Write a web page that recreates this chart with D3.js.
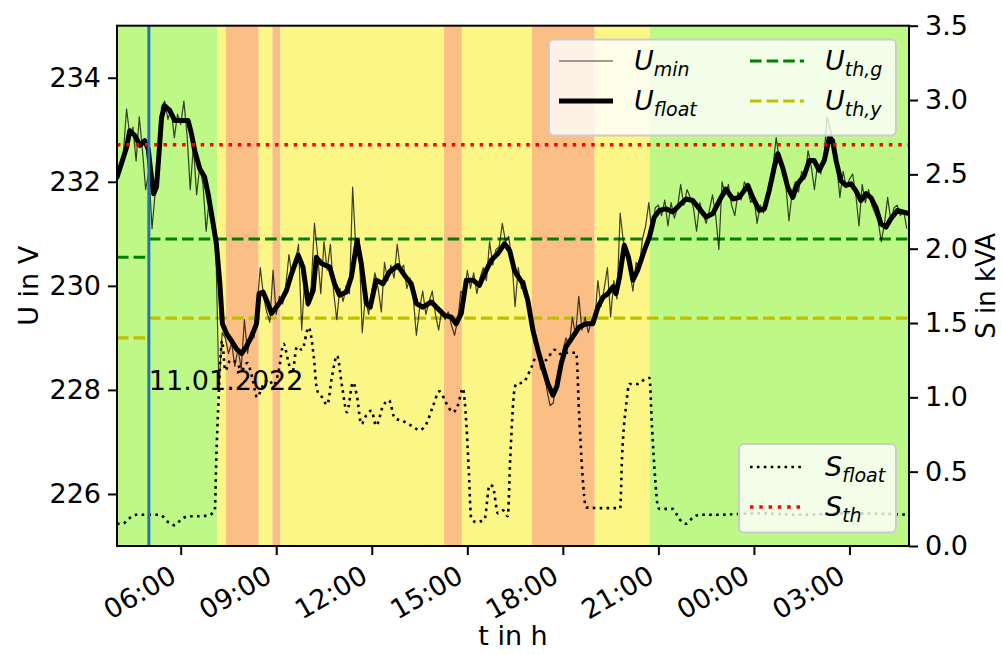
<!DOCTYPE html>
<html>
<head>
<meta charset="utf-8">
<script src="https://cdn.jsdelivr.net/npm/d3@7"></script>
<style>
  body { margin: 0; background: #fff; }
  svg { display: block; font-family: "DejaVu Sans", sans-serif; }
</style>
</head>
<body>
<svg id="chart" width="1002" height="655"></svg>
<script>
// ---- Data: times are hours since 00:00 on 11.01.2022 ----
const tStart = 4.0;
const tEnd = 28.87;

// Smoothed voltage U_float (V)
const uFloatTime = [4.00,4.14,4.30,4.40,4.56,4.72,4.87,4.98,5.08,5.15,5.24,5.31,5.40,5.50,5.66,5.81,6.02,6.23,6.34,6.44,6.60,6.75,6.86,7.02,7.12,7.23,7.31,7.44,7.59,7.75,7.91,8.06,8.22,8.38,8.46,8.59,8.74,8.85,9.00,9.16,9.32,9.48,9.69,9.84,10.00,10.16,10.26,10.42,10.68,10.83,10.99,11.20,11.36,11.54,11.67,11.83,11.95,12.14,12.35,12.56,12.82,13.03,13.24,13.40,13.61,13.87,14.08,14.29,14.50,14.65,14.81,14.97,15.18,15.38,15.54,15.75,15.96,16.17,16.33,16.48,16.54,16.75,16.90,17.06,17.22,17.37,17.53,17.69,17.81,17.95,18.10,18.31,18.52,18.73,18.94,19.10,19.26,19.41,19.57,19.67,19.78,19.93,20.06,20.20,20.35,20.56,20.72,20.87,21.03,21.24,21.45,21.66,21.87,22.08,22.29,22.50,22.71,22.97,23.12,23.34,23.54,23.81,23.96,24.17,24.33,24.48,24.64,24.75,24.90,25.06,25.22,25.37,25.58,25.74,25.89,26.05,26.21,26.37,26.47,26.58,26.73,26.89,27.05,27.20,27.36,27.52,27.67,27.83,27.99,28.15,28.30,28.51,28.67,28.87];
const uFloatValue = [232.09,232.35,232.66,232.98,232.89,232.70,232.79,232.63,232.09,231.77,231.90,232.47,233.24,233.46,233.37,233.18,233.18,233.18,232.92,232.60,232.25,232.09,231.77,231.19,230.81,230.04,229.27,229.08,228.95,228.79,228.70,228.83,229.02,229.27,229.85,229.88,229.66,229.47,229.59,229.72,229.91,230.23,230.59,230.36,229.66,229.91,230.55,230.43,230.36,230.04,229.82,229.88,230.17,230.87,230.43,229.66,229.59,230.11,230.04,230.27,230.39,230.20,230.04,229.66,229.59,229.69,229.56,229.43,229.40,229.27,229.47,230.11,230.11,230.01,230.23,230.49,230.62,230.81,230.68,230.30,230.23,230.04,229.72,229.15,228.76,228.44,228.12,227.90,228.06,228.51,228.83,229.02,229.21,229.27,229.27,229.59,229.78,229.85,229.98,229.85,230.17,230.78,230.55,230.11,230.30,230.68,230.94,231.32,231.45,231.48,231.42,231.55,231.67,231.64,231.48,231.32,231.39,231.70,231.86,231.67,231.70,231.93,231.70,231.45,231.48,231.83,232.28,232.54,232.28,231.90,231.70,231.96,232.12,232.41,232.41,232.22,232.41,232.86,232.79,232.41,232.02,231.93,231.96,231.83,231.64,231.77,231.70,231.51,231.19,231.13,231.29,231.45,231.42,231.39];

// Minimum voltage U_min (V), one sample every 6 minutes from 04:00
const uMinStep = 0.1;
const uMinValue = [
  232.00,232.30,232.55,233.40,232.90,233.05,232.40,233.25,232.60,231.85,
  232.20,231.10,231.80,232.60,233.45,233.55,233.20,233.40,232.85,233.30,
  233.10,233.55,232.90,231.85,232.70,231.75,232.30,231.95,231.05,231.70,
  231.20,230.90,228.00,229.10,229.00,228.70,228.90,228.45,228.80,228.40,
  229.35,228.70,229.10,229.00,229.60,230.35,229.80,229.50,229.30,230.30,
  229.45,229.80,229.65,230.00,230.60,230.15,230.45,230.80,229.15,230.20,
  229.60,230.00,231.20,230.60,229.85,230.85,230.30,230.80,229.90,229.35,
  229.95,229.70,230.00,229.85,231.90,230.70,230.90,229.10,229.80,229.45,
  229.90,230.25,229.95,229.50,230.45,230.10,230.40,230.15,230.80,230.30,
  230.40,229.95,230.15,229.80,229.05,229.55,229.90,229.45,229.70,229.90,
  229.45,229.15,229.55,229.35,229.50,229.25,229.05,229.35,229.90,229.80,
  230.30,229.95,230.25,229.85,230.15,230.35,230.10,230.85,230.40,230.70,
  230.75,231.20,230.85,230.95,230.50,229.60,230.35,229.95,230.10,229.60,
  229.35,228.90,228.85,228.40,228.50,228.00,227.70,227.75,228.20,228.25,
  228.75,229.00,228.85,229.40,229.05,229.80,229.15,229.40,229.10,229.35,
  229.30,230.10,229.60,229.95,230.35,229.40,230.10,229.75,231.40,230.85,
  230.75,230.30,229.90,230.45,230.35,230.90,231.15,231.60,231.00,231.50,
  231.55,231.35,231.65,231.15,231.60,231.30,231.50,231.95,231.55,231.85,
  231.70,231.50,231.05,231.60,231.40,231.20,231.45,231.75,231.35,230.70,
  232.00,231.75,231.95,231.55,231.35,231.80,231.65,232.00,231.85,231.60,
  231.70,231.20,231.55,231.40,231.75,231.95,232.30,232.85,232.40,232.25,
  231.95,231.25,231.80,232.00,231.80,232.20,232.05,232.60,232.30,231.85,
  232.35,232.15,232.50,233.25,233.00,232.75,232.30,231.70,232.20,231.90,
  232.05,232.15,231.75,231.15,231.95,231.60,231.85,231.55,231.40,231.25,
  230.85,231.20,231.70,231.25,231.50,231.55,231.35,231.45,231.10
];

// Apparent power S_float (kVA)
const sFloatTime = [4.00,4.19,4.35,4.61,4.93,5.34,5.61,5.81,6.02,6.23,6.60,6.91,7.07,7.12,7.18,7.25,7.30,7.40,7.56,7.77,7.91,8.09,8.24,8.40,8.56,8.76,8.92,9.08,9.23,9.39,9.50,9.65,9.81,10.02,10.18,10.28,10.44,10.60,10.75,10.91,11.07,11.22,11.41,11.54,11.67,11.83,11.99,12.14,12.35,12.54,12.72,12.98,13.24,13.50,13.71,13.92,14.13,14.34,14.55,14.71,14.86,14.97,15.05,15.12,15.28,15.54,15.70,15.80,15.96,16.12,16.27,16.35,16.48,16.54,16.75,17.01,17.16,17.45,17.74,17.95,18.10,18.42,18.51,18.61,18.73,19.17,19.80,19.86,19.99,20.09,20.35,20.56,20.72,20.80,20.90,20.98,21.03,21.45,21.66,21.87,22.08,22.29,22.81,24.19,25.44,27.01,28.87];
const sFloatValue = [0.15,0.15,0.18,0.21,0.21,0.21,0.16,0.14,0.18,0.20,0.20,0.21,0.24,0.60,0.94,1.27,1.38,1.18,1.25,1.23,1.18,1.23,1.14,1.00,1.07,1.12,1.08,1.18,1.36,1.23,1.16,1.34,1.32,1.47,1.27,1.05,1.00,0.95,1.14,1.28,1.07,0.90,1.10,1.00,0.82,0.88,0.91,0.81,0.94,0.98,0.86,0.84,0.81,0.78,0.82,0.94,1.04,0.96,0.90,0.95,1.06,0.82,0.49,0.19,0.16,0.18,0.41,0.40,0.22,0.24,0.20,0.60,1.05,1.09,1.10,1.20,1.27,1.25,1.32,1.29,1.30,1.30,0.90,0.50,0.26,0.255,0.255,0.60,0.95,1.09,1.09,1.12,1.13,0.80,0.45,0.27,0.25,0.25,0.18,0.15,0.19,0.21,0.21,0.22,0.21,0.22,0.21];

// Thresholds: the voltage limits change at 05:00
const thresholdBreaks = [4.0, 5.0, 28.87];
const uThG = [230.55, 230.90];
const uThY = [229.00, 229.38];
const sTh = 2.70;

// Traffic-light state periods
const stateStart = [4.00, 7.15, 7.42, 8.45, 8.88, 9.13, 14.27, 14.83, 17.03, 19.00, 20.72];
const stateEnd   = [7.15, 7.42, 8.45, 8.88, 9.13, 14.27, 14.83, 17.03, 19.00, 20.72, 28.87];
const stateLevel = ["green","yellow","orange","yellow","orange","yellow","orange","yellow","orange","yellow","green"];

const markerTime = 5.0;
const markerLabel = "11.01.2022";

const xTickHours = [6, 9, 12, 15, 18, 21, 24, 27];
const uTicks = [226, 228, 230, 232, 234];
const sTicks = [0, 0.5, 1.0, 1.5, 2.0, 2.5, 3.0, 3.5];

// ---- Drawing ----
const stateColor = { green: "#bef987", yellow: "#fbf685", orange: "#fbbf86" };
const day0 = new Date(2022, 0, 11, 0, 0, 0).getTime();
const toDate = h => new Date(day0 + h * 3600000);

const L = 117, R = 909, T = 25.7, B = 546;
const svg = d3.select("#chart");

const x = d3.scaleTime().domain([toDate(tStart), toDate(tEnd)]).range([L, R]);
const yU = d3.scaleLinear().domain([225, 235]).range([B, T]);
const yS = d3.scaleLinear().domain([0, 3.5]).range([B, T]);

svg.append("defs").append("clipPath").attr("id", "plotClip")
  .append("rect").attr("x", L).attr("y", T).attr("width", R - L).attr("height", B - T);

const plot = svg.append("g").attr("clip-path", "url(#plotClip)");

// background state bands
plot.selectAll("rect.state").data(stateStart).join("rect")
  .attr("class", "state")
  .attr("x", (d, i) => x(toDate(d)))
  .attr("width", (d, i) => x(toDate(stateEnd[i])) - x(toDate(d)))
  .attr("y", T).attr("height", B - T)
  .attr("fill", (d, i) => stateColor[stateLevel[i]]);

// voltage thresholds (step at 05:00)
function thresholdLine(values, color) {
  values.forEach((v, i) => {
    plot.append("line")
      .attr("x1", x(toDate(thresholdBreaks[i]))).attr("x2", x(toDate(thresholdBreaks[i + 1])))
      .attr("y1", yU(v)).attr("y2", yU(v))
      .attr("stroke", color).attr("stroke-width", 3.1)
      .attr("stroke-dasharray", "11.6,5");
  });
}
thresholdLine(uThG, "#008000");
thresholdLine(uThY, "#bfbf00");

// U_min
const uMinData = uMinValue.map((v, i) => [tStart + i * uMinStep, v]);
const lineU = d3.line().x(d => x(toDate(d[0]))).y(d => yU(d[1]));
plot.append("path").datum(uMinData)
  .attr("d", lineU).attr("fill", "none")
  .attr("stroke", "#000").attr("stroke-opacity", 0.75).attr("stroke-width", 1.2)
  .attr("stroke-linejoin", "round");

// U_float
const uFloatData = uFloatTime.map((t, i) => [t, uFloatValue[i]]);
plot.append("path").datum(uFloatData)
  .attr("d", lineU).attr("fill", "none")
  .attr("stroke", "#000").attr("stroke-width", 5)
  .attr("stroke-linejoin", "round").attr("stroke-linecap", "round");

// S_float (right axis)
const sFloatData = sFloatTime.map((t, i) => [t, sFloatValue[i]]);
const lineS = d3.line().x(d => x(toDate(d[0]))).y(d => yS(d[1])).curve(d3.curveMonotoneX);
plot.append("path").datum(sFloatData)
  .attr("d", lineS).attr("fill", "none")
  .attr("stroke", "#000").attr("stroke-width", 2.6)
  .attr("stroke-dasharray", "2.6,4.3");

// S_th
plot.append("line")
  .attr("x1", L).attr("x2", R).attr("y1", yS(sTh)).attr("y2", yS(sTh))
  .attr("stroke", "#ff0000").attr("stroke-width", 3.5)
  .attr("stroke-dasharray", "3.5,5.8");

// day marker
plot.append("line")
  .attr("x1", x(toDate(markerTime))).attr("x2", x(toDate(markerTime)))
  .attr("y1", T).attr("y2", B)
  .attr("stroke", "#1f77b4").attr("stroke-width", 3);

svg.append("text")
  .attr("x", x(toDate(markerTime))).attr("y", yU(228))
  .attr("font-size", 27).attr("fill", "#000")
  .text(markerLabel);

// ---- Legends ----
function legendBox(x0, y0, w, h) {
  svg.append("rect").attr("x", x0).attr("y", y0).attr("width", w).attr("height", h)
    .attr("rx", 5).attr("ry", 5)
    .attr("fill", "#fff").attr("fill-opacity", 0.8)
    .attr("stroke", "#cccccc").attr("stroke-width", 2);
}
function mathLabel(x0, y0, base, sub) {
  const t = svg.append("text").attr("x", x0).attr("y", y0)
    .attr("font-size", 27).attr("font-style", "italic").attr("fill", "#000");
  t.append("tspan").text(base);
  t.append("tspan").attr("font-size", 19).attr("dy", 6).text(sub);
}
function handle(x0, y0, stroke, width, dash, opacity) {
  const l = svg.append("line").attr("x1", x0).attr("x2", x0 + 54).attr("y1", y0).attr("y2", y0)
    .attr("stroke", stroke).attr("stroke-width", width);
  if (dash) l.attr("stroke-dasharray", dash);
  if (opacity) l.attr("stroke-opacity", opacity);
}

legendBox(549, 39.5, 347, 96);
handle(559, 61, "#000", 1.2, null, 0.75);
mathLabel(634, 70, "U", "min");
handle(559, 101, "#000", 5);
mathLabel(634, 110, "U", "float");
handle(750, 61, "#008000", 3.1, "11.6,5");
mathLabel(825, 70, "U", "th,g");
handle(750, 101, "#bfbf00", 3.1, "11.6,5");
mathLabel(825, 110, "U", "th,y");

legendBox(739, 444, 157, 88.5);
handle(750, 467, "#000", 2.6, "2.6,4.3");
mathLabel(825, 476, "S", "float");
handle(750, 507, "#ff0000", 3.5, "3.5,5.8");
mathLabel(825, 516, "S", "th");

// ---- Axes ----
const axisStyle = g => {
  g.select(".domain").remove();
  g.selectAll(".tick line").attr("stroke", "#000").attr("stroke-width", 2);
  g.selectAll(".tick text").attr("font-size", 27).attr("fill", "#000")
    .attr("font-family", "DejaVu Sans, sans-serif");
};

const gx = svg.append("g").attr("transform", `translate(0,${B})`)
  .call(d3.axisBottom(x).tickValues(xTickHours.map(toDate))
    .tickFormat(d3.timeFormat("%H:%M")).tickSize(9))
  .call(axisStyle);
gx.selectAll(".tick text")
  .attr("y", 0).attr("dy", 0).attr("text-anchor", "end")
  .attr("transform", "translate(-3,35) rotate(-30)");

svg.append("g").attr("transform", `translate(${L},0)`)
  .call(d3.axisLeft(yU).tickValues(uTicks).tickFormat(d3.format("d")).tickSize(9).tickPadding(7))
  .call(axisStyle);

svg.append("g").attr("transform", `translate(${R},0)`)
  .call(d3.axisRight(yS).tickValues(sTicks).tickFormat(d3.format(".1f")).tickSize(9).tickPadding(7))
  .call(axisStyle);

svg.append("rect").attr("x", L).attr("y", T).attr("width", R - L).attr("height", B - T)
  .attr("fill", "none").attr("stroke", "#000").attr("stroke-width", 2);

// axis titles
svg.append("text").attr("x", (L + R) / 2).attr("y", 645)
  .attr("text-anchor", "middle").attr("font-size", 27).text("t in h");
svg.append("text").attr("transform", `translate(38,${(T + B) / 2}) rotate(-90)`)
  .attr("text-anchor", "middle").attr("font-size", 27).text("U in V");
svg.append("text").attr("transform", `translate(995,${(T + B) / 2}) rotate(-90)`)
  .attr("text-anchor", "middle").attr("font-size", 26).text("S in kVA");
</script>
</body>
</html>
